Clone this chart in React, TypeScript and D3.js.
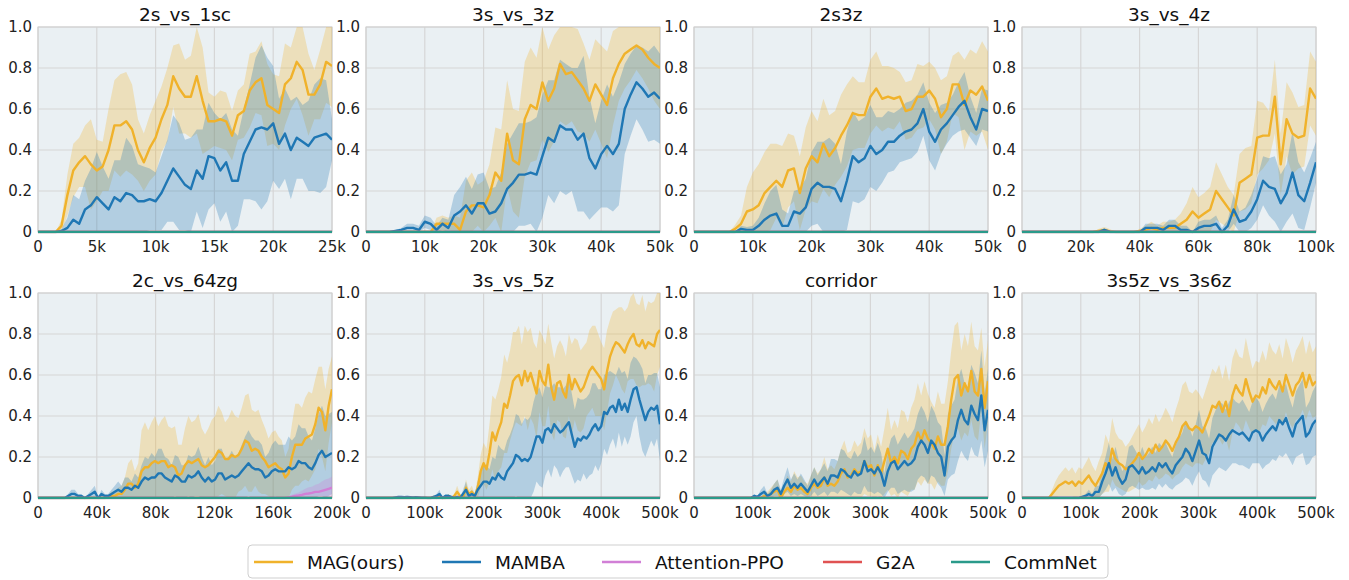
import React from 'react';
import * as d3 from 'd3';

// ---- data (win rate) ----
const titles = ['2s_vs_1sc', '3s_vs_3z', '2s3z', '3s_vs_4z', '2c_vs_64zg', '3s_vs_5z', 'corridor', '3s5z_vs_3s6z'];
const xMaxes = [25000, 50000, 50000, 100000, 200000, 500000, 500000, 500000];
const xTicks = [
  [0, 5000, 10000, 15000, 20000, 25000],
  [0, 10000, 20000, 30000, 40000, 50000],
  [0, 10000, 20000, 30000, 40000, 50000],
  [0, 20000, 40000, 60000, 80000, 100000],
  [0, 40000, 80000, 120000, 160000, 200000],
  [0, 100000, 200000, 300000, 400000, 500000],
  [0, 100000, 200000, 300000, 400000, 500000],
  [0, 100000, 200000, 300000, 400000, 500000],
];
const yTicks = [0, 0.2, 0.4, 0.6, 0.8, 1.0];
const yTickLabels = ['0', '0.2', '0.4', '0.6', '0.8', '1.0'];
const legendNames = ['MAG(ours)', 'MAMBA', 'Attention-PPO', 'G2A', 'CommNet'];
const colors = ['#f0b22b', '#1f77b4', '#d17fd6', '#e05252', '#2a9a8a'];

const flat = [0, 0];

// 2s_vs_1sc
const mag1 = [0,0,0,0,0.03,0.18,0.30,0.34,0.37,0.33, 0.30,0.32,0.40,0.52,0.52,0.54,0.50,0.40,0.34,0.41, 0.46,0.55,0.62,0.76,0.70,0.66,0.66,0.76,0.64,0.54, 0.54,0.55,0.54,0.47,0.57,0.59,0.69,0.73,0.75,0.62, 0.60,0.58,0.72,0.75,0.83,0.79,0.67,0.67,0.72,0.83, 0.81];
const mag1Sd = [0,0,0,0,0.03,0.10,0.13,0.12,0.15,0.22, 0.15,0.12,0.20,0.22,0.25,0.24,0.22,0.15,0.14,0.16, 0.18,0.16,0.18,0.15,0.22,0.18,0.20,0.28,0.26,0.14, 0.12,0.14,0.14,0.12,0.12,0.13,0.18,0.15,0.18,0.20, 0.17,0.18,0.20,0.15,0.18,0.22,0.20,0.12,0.17,0.20, 0.20];
const mamba1 = [0,0,0,0,0.005,0.02,0.06,0.04,0.11,0.13, 0.17,0.14,0.11,0.17,0.15,0.19,0.18,0.15,0.15,0.16, 0.15,0.19,0.25,0.31,0.27,0.23,0.21,0.30,0.26,0.37, 0.36,0.30,0.34,0.25,0.25,0.38,0.44,0.50,0.51,0.50, 0.53,0.43,0.48,0.40,0.46,0.44,0.42,0.46,0.47,0.48, 0.45];
const mamba1Sd = [0,0,0,0,0.01,0.05,0.12,0.12,0.14,0.18, 0.22,0.18,0.15,0.18,0.20,0.27,0.24,0.18,0.17,0.15, 0.14,0.18,0.20,0.26,0.26,0.22,0.25,0.20,0.24,0.26, 0.22,0.25,0.24,0.25,0.22,0.22,0.28,0.35,0.40,0.35, 0.28,0.22,0.22,0.24,0.20,0.18,0.22,0.26,0.28,0.26, 0.10];

// 3s_vs_3z
const mag2 = [0,0,0,0,0,0,0,0,0,0, 0,0,0.04,0.04,0.04,0.04,0.01,0.10,0.13,0.13, 0.12,0.18,0.29,0.25,0.48,0.35,0.33,0.55,0.62,0.60, 0.73,0.64,0.70,0.82,0.77,0.78,0.74,0.70,0.64,0.72, 0.67,0.62,0.75,0.82,0.87,0.89,0.91,0.89,0.85,0.82, 0.80];
const mag2Sd = [0,0,0,0,0,0,0,0,0,0, 0,0,0.03,0.04,0.03,0.04,0.06,0.15,0.16,0.10, 0.13,0.15,0.22,0.25,0.26,0.25,0.26,0.28,0.28,0.25, 0.28,0.25,0.26,0.28,0.25,0.24,0.25,0.22,0.20,0.22, 0.24,0.26,0.23,0.18,0.17,0.15,0.12,0.14,0.15,0.18, 0.20];
const mamba2 = [0,0,0,0,0,0.005,0.01,0.02,0.02,0.01, 0.05,0.04,0.01,0.04,0.02,0.08,0.10,0.13,0.09,0.14, 0.14,0.09,0.10,0.14,0.21,0.24,0.28,0.28,0.29,0.28, 0.37,0.46,0.44,0.52,0.50,0.50,0.45,0.48,0.36,0.31, 0.38,0.42,0.38,0.43,0.60,0.67,0.73,0.70,0.66,0.68, 0.65];
const mamba2Sd = [0,0,0,0,0,0.005,0.01,0.02,0.02,0.02, 0.03,0.03,0.02,0.03,0.04,0.10,0.12,0.14,0.12,0.14, 0.15,0.12,0.12,0.15,0.22,0.24,0.25,0.25,0.25,0.28, 0.30,0.28,0.30,0.32,0.32,0.30,0.35,0.38,0.30,0.22, 0.26,0.30,0.28,0.30,0.22,0.20,0.18,0.20,0.22,0.23, 0.22];

// 2s3z
const mag3 = [0,0,0,0,0,0,0,0.015,0.04,0.10, 0.11,0.13,0.19,0.22,0.25,0.22,0.30,0.31,0.19,0.31, 0.37,0.34,0.43,0.37,0.41,0.47,0.52,0.58,0.57,0.57, 0.66,0.70,0.65,0.66,0.65,0.66,0.59,0.60,0.66,0.66, 0.69,0.65,0.56,0.60,0.72,0.72,0.62,0.69,0.67,0.71, 0.64];
const mag3Sd = [0,0,0,0,0,0,0,0.02,0.04,0.12, 0.18,0.20,0.20,0.21,0.18,0.20,0.18,0.16,0.18,0.20, 0.22,0.20,0.22,0.20,0.18,0.20,0.20,0.18,0.16,0.16, 0.18,0.18,0.16,0.15,0.15,0.12,0.14,0.14,0.16,0.15, 0.14,0.15,0.18,0.16,0.14,0.16,0.22,0.20,0.20,0.22, 0.24];
const mamba3 = [0,0,0,0,0,0,0,0,0.015,0.01, 0.01,0.03,0.06,0.08,0.09,0.03,0.03,0.10,0.09,0.12, 0.21,0.24,0.22,0.22,0.21,0.15,0.25,0.37,0.34,0.36, 0.42,0.38,0.40,0.44,0.44,0.47,0.49,0.50,0.53,0.60, 0.49,0.44,0.50,0.53,0.57,0.61,0.64,0.56,0.50,0.60, 0.59];
const mamba3Sd = [0,0,0,0,0,0,0,0,0.015,0.015, 0.02,0.04,0.08,0.12,0.14,0.08,0.06,0.10,0.12,0.14, 0.18,0.20,0.22,0.24,0.22,0.18,0.24,0.22,0.20,0.20, 0.20,0.18,0.16,0.15,0.14,0.13,0.14,0.14,0.14,0.13, 0.14,0.14,0.12,0.10,0.10,0.12,0.14,0.10,0.08,0.10, 0.10];

// 3s_vs_4z
const mag4 = [0,0,0,0,0,0,0,0,0,0, 0,0,0,0.005,0.01,0.003,0,0,0,0, 0.005,0.01,0.02,0.01,0.02,0.02,0.02,0.04,0.06,0.10, 0.07,0.09,0.11,0.20,0.16,0.12,0.08,0.24,0.26,0.28, 0.46,0.47,0.47,0.66,0.33,0.55,0.48,0.46,0.47,0.70, 0.65];
const mag4Sd = [0,0,0,0,0,0,0,0,0,0, 0,0,0,0.01,0.015,0.01,0,0,0,0, 0.01,0.02,0.03,0.02,0.03,0.03,0.04,0.05,0.08,0.12, 0.10,0.10,0.11,0.14,0.12,0.10,0.10,0.14,0.15,0.14, 0.18,0.16,0.12,0.18,0.15,0.18,0.20,0.15,0.15,0.18, 0.18];
const mamba4 = [0,0,0,0,0,0,0,0,0,0, 0,0,0,0,0.01,0,0,0,0,0, 0,0.02,0.02,0.02,0.01,0.03,0.03,0.01,0.01,0, 0.02,0.03,0.03,0.04,0,0.03,0.11,0.05,0.06,0.10, 0.16,0.25,0.22,0.21,0.14,0.19,0.29,0.18,0.15,0.24, 0.34];
const mamba4Sd = [0,0,0,0,0,0,0,0,0,0, 0,0,0,0,0.01,0,0,0,0,0, 0,0.02,0.02,0.02,0.02,0.03,0.03,0.02,0.02,0, 0.03,0.03,0.03,0.04,0.02,0.03,0.07,0.05,0.06,0.08, 0.10,0.12,0.14,0.16,0.14,0.14,0.20,0.16,0.14,0.12, 0.10];

// 2c_vs_64zg
const mag5 = [0,0,0,0,0,0,0,0,0,0, 0,0,0,0,0,0,0,0,0,0, 0, 0.005,
  0.01,0.01,0.02,0.02,0.04,0.07,0.07,0.05,0.07,
  0.13,0.15,0.15,0.17,0.18,0.17,0.18,0.18,0.15,0.16,
  0.15,0.11,0.12,0.16,0.18,0.17,0.18,0.19,0.16,0.15,
  0.16,0.18,0.20,0.23,0.22,0.19,0.19,0.21,0.20,0.21,
  0.24,0.28,0.27,0.23,0.24,0.23,0.20,0.18,0.15,0.16,
  0.17,0.15,0.14,0.10,0.12,0.20,0.26,0.26,0.26,0.29,
  0.30,0.31,0.36,0.44,0.42,0.33,0.45,0.53];
const mag5Sd = [0,0,0,0,0,0,0,0,0,0, 0,0,0,0,0,0,0,0,0,0, 0,
  0.01,0.02,0.02,0.03,0.04,0.06,0.10,0.12,0.08,0.10,
  0.20,0.22,0.18,0.20,0.22,0.18,0.20,0.22,0.20,0.18,0.20,0.15,0.14,0.18,0.22,0.20,0.20,0.22,0.18,0.16,
  0.18,0.20,0.20,0.22,0.20,0.18,0.20,0.22,0.20,0.18,0.20,0.22,0.24,0.20,0.18,0.20,0.18,0.16,0.14,0.16,
  0.16,0.15,0.14,0.10,0.12,0.16,0.20,0.20,0.18,0.20,0.22,0.20,0.22,0.20,0.22,0.20,0.18,0.16];
const mamba5 = [0,0,0,0,0,0,0,0,0,
  0.01,0.02,0.02,0.01,0.01,0.0,0.01,0.02,0.03,0.0,0.02,0.01,0.01,
  0.02,0.03,0.04,0.03,0.05,0.05,0.04,0.06,0.05,
  0.08,0.10,0.09,0.10,0.10,0.12,0.12,0.10,0.09,0.08,
  0.11,0.10,0.08,0.08,0.11,0.10,0.11,0.13,0.10,0.08,
  0.10,0.08,0.09,0.12,0.12,0.09,0.10,0.11,0.10,0.11,
  0.13,0.15,0.17,0.15,0.14,0.14,0.13,0.10,0.11,0.13,
  0.14,0.13,0.13,0.13,0.15,0.14,0.15,0.18,0.17,0.17,
  0.15,0.14,0.17,0.21,0.23,0.20,0.21,0.22];
const mamba5Sd = [0,0,0,0,0,0,0,0,0,
  0.01,0.02,0.02,0.01,0.01,0.0,0.01,0.02,0.03,0.0,0.02,0.01,
  0.01,0.02,0.03,0.04,0.03,0.05,0.05,0.04,0.06,0.05,
  0.08,0.10,0.10,0.12,0.10,0.12,0.12,0.10,0.10,0.08,0.10,0.10,0.08,0.08,0.10,0.10,0.10,0.12,0.10,0.08,
  0.10,0.08,0.09,0.12,0.12,0.10,0.10,0.12,0.10,0.11,0.13,0.15,0.16,0.15,0.14,0.14,0.13,0.10,0.11,0.13,
  0.14,0.13,0.13,0.13,0.15,0.14,0.15,0.18,0.17,0.17,0.15,0.14,0.17,0.20,0.22,0.20,0.20,0.20];
const attn5 = [0,0,0,0,0,0,0,0,0,0, 0,0,0,0,0,0,0,0,0,0, 0,0,0,0,0,0,0,0,0,0,
  0,0,0,0,0,0,0,0,0,0, 0,0,0,0,0,0,0,0,0,0, 0,0,0,0,0,0,0,0,0,0,
  0,0,0,0,0,0,0,0,0,0, 0,0,0,0,0,
  0.003,0.006,0.01,0.012,0.015,0.02,0.022,0.025,0.03,0.03,0.035,0.04,0.045,0.05];
const attn5Sd = [0,0,0,0,0,0,0,0,0,0, 0,0,0,0,0,0,0,0,0,0, 0,0,0,0,0,0,0,0,0,0,
  0,0,0,0,0,0,0,0,0,0, 0,0,0,0,0,0,0,0,0,0, 0,0,0,0,0,0,0,0,0,0,
  0,0,0,0,0,0,0,0,0,0, 0,0,0,0,
  0.003,0.006,0.01,0.012,0.015,0.02,0.025,0.03,0.03,0.035,0.04,0.045,0.05,0.05,0.055];

// 3s_vs_5z
const mag6 = [0,0,0,0,0,0,0,0,0,0, 0,0,0,0,0,0,0,0,0,0, 0,0,
  0,0.005,0,0.01,0,0,0.01,0,0.01,0.03,0.01,0,0.05,0.02,0.03,0.01,0.05,
  0.13,0.17,0.14,0.22,0.32,0.28,0.33,0.37,0.46,0.44,0.50,0.57,
  0.59,0.60,0.55,0.62,0.57,0.61,0.56,0.51,0.62,0.57,0.55,0.65,0.54,0.48,0.56,0.57,0.52,0.49,0.60,0.53,
  0.58,0.55,0.52,0.54,0.58,0.62,0.64,0.62,0.60,0.58,0.53,0.62,0.69,0.73,0.76,0.75,0.73,0.71,0.75,0.78,
  0.80,0.75,0.74,0.77,0.73,0.76,0.75,0.74,0.80,0.82];
const mag6Sd = [0,0,0,0,0,0,0,0,0,0, 0,0,0,0,0,0,0,0,0,0, 0,0,
  0,0.005,0,0.01,0,0,0.01,0,0.01,0.03,0.01,0,0.04,0.02,0.03,0.01,0.05,
  0.08,0.10,0.10,0.14,0.18,0.20,0.20,0.22,0.24,0.22,0.22,0.24,
  0.22,0.24,0.20,0.22,0.24,0.22,0.20,0.22,0.20,0.22,0.20,0.20,0.22,0.20,0.18,0.20,0.22,0.20,0.20,0.22,
  0.20,0.22,0.20,0.20,0.18,0.20,0.20,0.22,0.20,0.18,0.20,0.20,0.18,0.18,0.16,0.18,0.20,0.20,0.18,0.20,
  0.22,0.20,0.20,0.22,0.18,0.20,0.20,0.22,0.20,0.18];
const mamba6 = [0,0,0,0,0,0,0,0,0,0,
  0.003,0.005,0.005,0.004,0.005,0.004,0.003,0.004,0.003,0.002,0.002,0,0,0.005,0.01,0.02,0,0.01,0.01,0.005,0,0.005,0,0.02,0.04,0.01,0.02,0.01,0.04,
  0.06,0.08,0.08,0.07,0.10,0.09,0.12,0.10,0.09,0.13,0.15,0.17,0.21,0.20,0.18,0.19,0.18,0.20,0.25,0.30,0.30,0.27,
  0.33,0.34,0.32,0.36,0.34,0.32,0.33,0.35,0.37,0.31,0.25,0.29,0.28,0.30,0.29,0.31,0.34,0.36,0.33,0.35,
  0.42,0.41,0.44,0.45,0.42,0.48,0.43,0.46,0.42,0.48,0.53,0.54,0.48,0.43,0.38,0.42,0.44,0.43,0.45,0.36];
const mamba6Sd = [0,0,0,0,0,0,0,0,0,0,
  0.003,0.005,0.005,0.004,0.005,0.004,0.003,0.004,0.003,0.002,0.002,0,0,0.005,0.01,0.02,0,0.01,0.01,0.005,0,0.005,0,0.02,0.04,0.01,0.02,0.01,0.04,
  0.06,0.08,0.08,0.07,0.10,0.10,0.14,0.14,0.14,0.15,0.16,0.18,0.20,0.20,0.18,0.20,0.20,0.20,0.22,0.22,0.24,0.22,
  0.22,0.20,0.22,0.20,0.20,0.22,0.20,0.20,0.22,0.20,0.18,0.20,0.20,0.18,0.20,0.20,0.22,0.20,0.20,0.18,
  0.18,0.20,0.18,0.16,0.18,0.16,0.18,0.16,0.16,0.18,0.16,0.14,0.18,0.20,0.18,0.18,0.16,0.18,0.16,0.18];

// corridor
const mag7 = [0,0,0,0,0,0,0,0,0,0, 0,0,0,0,0,0,0,
  0,0.005,0,0,0.01,0.01,0.02,0.03,0.04,0,0.03,0.05,0.03,0.06,0.04,0.05,0.03,0.02,0.05,0.07,0.05,0.06,0.10,0.06,
  0.07,0.06,0.08,0.12,0.14,0.10,0.11,0.14,0.12,0.13,0.18,0.15,0.16,0.11,0.16,0.12,0.18,0.24,0.17,0.20,
  0.17,0.23,0.22,0.19,0.24,0.26,0.32,0.28,0.33,0.29,0.27,0.24,0.30,0.26,0.26,0.35,
  0.48,0.58,0.60,0.50,0.56,0.52,0.62,0.52,0.50,0.63,0.44,0.57];
const mag7Sd = [0,0,0,0,0,0,0,0,0,0, 0,0,0,0,0,0,0,
  0,0.005,0,0,0.02,0.02,0.03,0.04,0.05,0.03,0.04,0.06,0.05,0.07,0.06,0.06,0.05,0.05,0.06,0.08,0.07,0.08,0.10,0.08,
  0.09,0.08,0.10,0.12,0.14,0.12,0.12,0.14,0.13,0.14,0.16,0.14,0.15,0.12,0.15,0.13,0.16,0.20,0.16,0.18,
  0.17,0.20,0.20,0.18,0.20,0.22,0.24,0.22,0.24,0.22,0.20,0.20,0.22,0.20,0.20,0.22,
  0.24,0.26,0.26,0.22,0.24,0.22,0.24,0.22,0.22,0.20,0.20,0.20];
const mamba7 = [0,0,0,0,0,0,0,0,0,0, 0,0,0,0,0,0,0,
  0,0.01,0.005,0.02,0.03,0.01,0.02,0.04,0.05,0.02,0.06,0.09,0.05,0.07,0.05,0.07,0.05,0.03,0.06,0.09,0.06,0.08,0.10,0.07,
  0.11,0.11,0.10,0.14,0.13,0.11,0.10,0.13,0.11,0.12,0.18,0.13,0.14,0.12,0.15,0.12,0.06,0.13,0.17,0.18,
  0.14,0.16,0.18,0.16,0.17,0.19,0.25,0.28,0.26,0.22,0.28,0.26,0.22,0.20,0.11,0.25,
  0.28,0.30,0.38,0.43,0.38,0.36,0.45,0.41,0.38,0.50,0.33,0.43];
const mamba7Sd = [0,0,0,0,0,0,0,0,0,0, 0,0,0,0,0,0,0,
  0,0.01,0.005,0.02,0.03,0.01,0.02,0.03,0.04,0.02,0.04,0.06,0.04,0.05,0.04,0.05,0.04,0.03,0.05,0.06,0.05,0.06,0.07,0.06,
  0.08,0.08,0.08,0.10,0.10,0.09,0.09,0.10,0.09,0.10,0.12,0.10,0.11,0.10,0.12,0.10,0.06,0.10,0.12,0.13,
  0.12,0.13,0.14,0.13,0.14,0.15,0.16,0.17,0.16,0.15,0.17,0.16,0.15,0.15,0.10,0.16,
  0.17,0.18,0.20,0.20,0.18,0.18,0.20,0.20,0.18,0.22,0.18,0.20];

// 3s5z_vs_3s6z
const mag8 = [0,0,0,0,0,0,0,0,0,
  0.02,0.04,0.06,0.07,0.08,0.07,0.08,0.06,0.08,0.07,
  0.09,0.11,0.08,0.06,0.09,0.12,0.17,0.15,0.24,0.19,
  0.17,0.16,0.14,0.15,0.17,0.19,0.22,0.19,0.21,0.24,
  0.22,0.26,0.23,0.25,0.28,0.26,0.23,0.27,0.30,0.35,
  0.37,0.34,0.33,0.35,0.34,0.32,0.36,0.40,0.45,0.44,
  0.47,0.42,0.47,
  0.40,0.50,0.55,0.52,0.50,0.58,0.52,0.47,0.50,0.49,0.54,0.51,0.58,0.55,0.53,0.57,0.52,0.60,0.55,0.50,0.55,0.57,0.61,0.54,0.60,0.55,0.57];
const mag8Sd = [0,0,0,0,0,0,0,0,0,
  0.02,0.04,0.05,0.06,0.07,0.06,0.07,0.06,0.07,0.07,
  0.08,0.09,0.08,0.07,0.09,0.10,0.14,0.12,0.15,0.13,
  0.12,0.12,0.11,0.12,0.13,0.14,0.14,0.13,0.14,0.15,
  0.14,0.15,0.14,0.15,0.16,0.15,0.14,0.16,0.18,0.20,
  0.20,0.18,0.18,0.18,0.17,0.16,0.17,0.18,0.18,0.17,
  0.18,0.16,0.18,
  0.17,0.18,0.18,0.17,0.18,0.20,0.18,0.16,0.17,0.17,0.18,0.16,0.18,0.17,0.17,0.18,0.16,0.18,0.18,0.16,0.17,0.18,0.18,0.16,0.17,0.16,0.17];
const mamba8 = [0,0,0,0,0,0,0,0,0,0, 0,0,0,0,0,0,0,0,
  0.005,0.01,0.02,0.01,0.03,0.03,0.08,0.12,0.17,0.11,0.15,0.10,0.07,0.09,0.15,0.16,0.14,0.12,0.15,0.12,0.13,0.15,0.13,
  0.17,0.15,0.17,0.14,0.12,0.16,0.18,0.20,0.24,0.22,0.18,0.23,0.28,0.22,0.21,0.17,0.25,0.28,0.31,0.30,0.28,
  0.31,0.33,0.32,0.31,0.32,0.30,0.28,0.32,0.33,0.32,0.28,0.31,0.33,0.35,0.33,0.38,0.36,0.39,0.34,0.30,0.36,0.38,0.40,0.30,0.32,0.36,0.38];
const mamba8Sd = [0,0,0,0,0,0,0,0,0,0, 0,0,0,0,0,0,0,0,
  0.005,0.01,0.02,0.01,0.03,0.03,0.06,0.08,0.10,0.08,0.10,0.08,0.06,0.07,0.10,0.10,0.09,0.08,0.10,0.08,0.09,0.10,0.09,
  0.10,0.10,0.10,0.09,0.08,0.10,0.11,0.12,0.14,0.13,0.12,0.13,0.15,0.13,0.13,0.12,0.14,0.15,0.16,0.16,0.15,
  0.16,0.16,0.15,0.15,0.16,0.15,0.14,0.15,0.16,0.15,0.14,0.15,0.16,0.16,0.15,0.17,0.16,0.17,0.15,0.14,0.16,0.17,0.18,0.14,0.15,0.16,0.17];

const magRuns = [mag1, mag2, mag3, mag4, mag5, mag6, mag7, mag8];
const magSds = [mag1Sd, mag2Sd, mag3Sd, mag4Sd, mag5Sd, mag6Sd, mag7Sd, mag8Sd];
const mambaRuns = [mamba1, mamba2, mamba3, mamba4, mamba5, mamba6, mamba7, mamba8];
const mambaSds = [mamba1Sd, mamba2Sd, mamba3Sd, mamba4Sd, mamba5Sd, mamba6Sd, mamba7Sd, mamba8Sd];
const attnRuns = [flat, flat, flat, flat, attn5, flat, flat, flat];
const attnSds = [flat, flat, flat, flat, attn5Sd, flat, flat, flat];

// ---- layout ----
const W = 294;
const H = 205;
const LEFT = 38;
const TOP = 27;
const COL_STEP = 328;
const ROW_STEP = 266;
const FONT = 'DejaVu Sans';

const fmtK = (v: number) => (v === 0 ? '0' : v / 1000 + 'k');

const Panel = ({ idx }: { idx: number }) => {
  const left = LEFT + (idx % 4) * COL_STEP;
  const top = TOP + Math.floor(idx / 4) * ROW_STEP;
  const xMax = xMaxes[idx];
  const x = d3.scaleLinear().domain([0, xMax]).range([0, W]);
  const y = d3.scaleLinear().domain([0, 1]).range([H, 0]);

  const series = [
    { mean: magRuns[idx], sd: magSds[idx], color: colors[0] },
    { mean: mambaRuns[idx], sd: mambaSds[idx], color: colors[1] },
    { mean: attnRuns[idx], sd: attnSds[idx], color: colors[2] },
    { mean: flat, sd: flat, color: colors[3] },
    { mean: flat, sd: flat, color: colors[4] },
  ];

  const clipId = 'clip' + idx;

  return (
    <g transform={'translate(' + left + ',' + top + ')'}>
      <defs>
        <clipPath id={clipId}>
          <rect x={0} y={-2} width={W} height={H + 3.2} />
        </clipPath>
      </defs>
      <rect x={0} y={0} width={W} height={H} fill="#eaf0f3" />
      {xTicks[idx].map((t) => (
        <line key={'gx' + t} x1={x(t)} x2={x(t)} y1={0} y2={H} stroke="#d6d6d6" strokeWidth={1.2} />
      ))}
      {yTicks.map((t) => (
        <line key={'gy' + t} x1={0} x2={W} y1={y(t)} y2={y(t)} stroke="#d6d6d6" strokeWidth={1.2} />
      ))}
      <rect x={0} y={0} width={W} height={H} fill="none" stroke="#d0d0d0" strokeWidth={1} />
      <g clipPath={'url(#' + clipId + ')'}>
        {series.map((s, k) => {
          if (d3.max(s.sd) === 0) return null;
          const step = xMax / (s.mean.length - 1);
          const area = d3
            .area<number>()
            .x((d, i) => x(i * step))
            .y0((d, i) => y(Math.max(0, d - s.sd[i])))
            .y1((d, i) => y(Math.min(1, d + s.sd[i])));
          return <path key={'band' + k} d={area(s.mean) || ''} fill={s.color} fillOpacity={0.28} stroke="none" />;
        })}
        {series.map((s, k) => {
          const step = xMax / (s.mean.length - 1);
          const line = d3
            .line<number>()
            .x((d, i) => x(i * step))
            .y((d) => y(d));
          return (
            <path key={'line' + k} d={line(s.mean) || ''} fill="none" stroke={s.color} strokeWidth={2.4}
              strokeLinejoin="round" />
          );
        })}
      </g>
      {yTicks.map((t, i) => (
        <text key={'ty' + t} x={-6} y={y(t)} dy="0.36em" textAnchor="end" fontSize={15} fontFamily={FONT} fill="#222">
          {yTickLabels[i]}
        </text>
      ))}
      {xTicks[idx].map((t) => (
        <text key={'tx' + t} x={x(t)} y={H + 20} textAnchor="middle" fontSize={15} fontFamily={FONT} fill="#222">
          {fmtK(t)}
        </text>
      ))}
      <text x={W / 2} y={-6} textAnchor="middle" fontSize={18.5} fontFamily={FONT} fill="#111">
        {titles[idx]}
      </text>
    </g>
  );
};

const legendX = [254, 442, 602, 823, 951];

const Legend = () => (
  <g>
    <rect x={248} y={545} width={860} height={33} rx={4} fill="#fff" stroke="#cfcfcf" strokeWidth={1} />
    {legendNames.map((name, i) => (
      <g key={name}>
        <line x1={legendX[i]} x2={legendX[i] + 39} y1={562} y2={562} stroke={colors[i]} strokeWidth={2.4} />
        <text x={legendX[i] + 53} y={568.5} fontSize={18.5} fontFamily={FONT} fill="#111">
          {name}
        </text>
      </g>
    ))}
  </g>
);

export default function App() {
  return (
    <svg width={1349} height={580} style={{ position: 'absolute', left: 0, top: 0, background: '#fff' }}>
      {titles.map((t, i) => (
        <Panel key={t} idx={i} />
      ))}
      <Legend />
    </svg>
  );
}
